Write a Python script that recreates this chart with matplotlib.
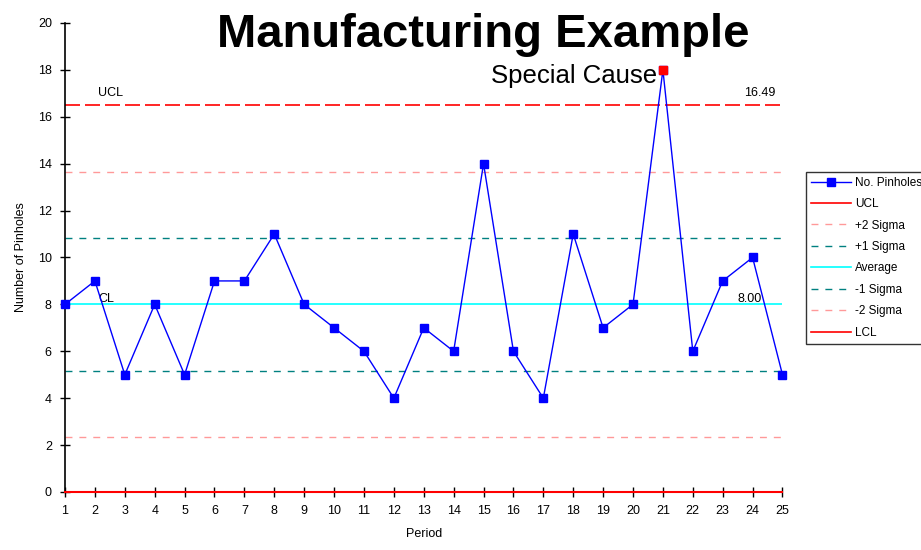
import numpy as np
import matplotlib
matplotlib.use("Agg")
import matplotlib.pyplot as plt
from matplotlib.lines import Line2D

plt.rcParams['font.family'] = ['Liberation Sans', 'DejaVu Sans']

# data
periods = list(range(1, 26))
pinholes = [8, 9, 5, 8, 5, 9, 9, 11, 8, 7, 6, 4, 7, 6, 14, 6, 4, 11, 7, 8, 18, 6, 9, 10, 5]
special_period = 21
average = 8.00
ucl = 16.49
sigma = (ucl - average) / 3
lcl = 0.0

fig = plt.figure(figsize=(9.21, 5.5), dpi=100)
ax = fig.add_axes([0.0706, 0.1055, 0.7790, 0.8527])

ax.axhline(ucl, color='red', lw=1.2, dashes=(9, 3), zorder=2)
ax.axhline(average + 2 * sigma, color='#ff9999', lw=1, dashes=(5, 5), zorder=2)
ax.axhline(average + sigma, color='#008080', lw=1, dashes=(5, 5), zorder=2)
ax.axhline(average, color='cyan', lw=1.2, zorder=2)
ax.axhline(average - sigma, color='#008080', lw=1, dashes=(5, 5), zorder=2)
ax.axhline(average - 2 * sigma, color='#ff9999', lw=1, dashes=(5, 5), zorder=2)
ax.axhline(lcl, color='red', lw=1.5, zorder=3, clip_on=False)

ax.plot(periods, pinholes, color='blue', lw=1, marker='s', ms=5.5, zorder=4, clip_on=False)
i = periods.index(special_period)
ax.plot([special_period], [pinholes[i]], color='red', marker='s', ms=5.5, lw=0, zorder=5, clip_on=False)

ax.set_xlim(1, 25)
ax.set_ylim(0, 20)
ax.set_xticks(periods)
ax.set_yticks(range(0, 21, 2))
for s in ['top', 'right', 'bottom']:
    ax.spines[s].set_visible(False)
ax.spines['left'].set_linewidth(1.2)
ax.tick_params(direction='inout', length=7, width=1, labelsize=9, pad=6)

ax.set_xlabel('Period', fontsize=9, labelpad=8)
ax.set_ylabel('Number of Pinholes', fontsize=9, labelpad=8)

ax.text(2.1, ucl + 0.4, 'UCL', fontsize=9)
ax.text(23.7, ucl + 0.4, '16.49', fontsize=9)
ax.text(2.1, average + 0.1, 'CL', fontsize=9)
ax.text(23.5, average + 0.1, '8.00', fontsize=9)
ax.text(20.8, 17.75, 'Special Cause', fontsize=18.5, ha='right', va='center')

fig.text(0.525, 0.937, 'Manufacturing Example', fontsize=34, fontweight='bold',
         ha='center', va='center')

handles = [
    Line2D([], [], color='blue', marker='s', ms=5.5, lw=1),
    Line2D([], [], color='red', lw=1.2),
    Line2D([], [], color='#ff9999', lw=1, dashes=(5, 5)),
    Line2D([], [], color='#008080', lw=1, dashes=(5, 5)),
    Line2D([], [], color='cyan', lw=1.2),
    Line2D([], [], color='#008080', lw=1, dashes=(5, 5)),
    Line2D([], [], color='#ff9999', lw=1, dashes=(5, 5)),
    Line2D([], [], color='red', lw=1.2),
]
labels = ['No. Pinholes', 'UCL', '+2 Sigma', '+1 Sigma', 'Average', '-1 Sigma', '-2 Sigma', 'LCL']
leg = fig.legend(handles, labels, loc='upper left', bbox_to_anchor=(806 / 921, 1 - 172 / 550),
                 fontsize=8.5, frameon=True, fancybox=False, edgecolor='black',
                 handlelength=3.4, labelspacing=0.8, borderpad=0.4, handletextpad=0.35,
                 borderaxespad=0)
leg.get_frame().set_linewidth(1)

fig.savefig('out.png', dpi=100)
